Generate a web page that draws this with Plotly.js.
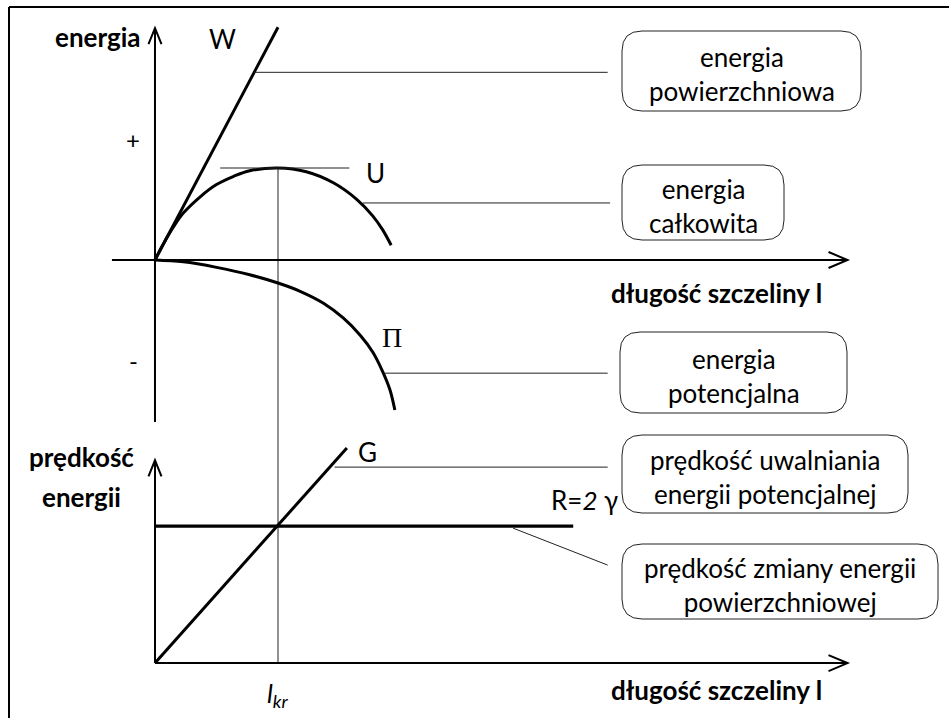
<!DOCTYPE html>
<html>
<head>
<meta charset="utf-8">
<script src="https://cdn.plot.ly/plotly-3.0.1.min.js"></script>
<style>
  html, body { margin: 0; padding: 0; background: #ffffff; }
  #chart { width: 949px; height: 718px; }
</style>
</head>
<body>
<div id="chart"></div>
<script>
// Crack length is measured in units of the critical length l_kr.
const lkr = 1.0;

// Upper panel: energies versus crack length
const wX  = [0, 1.0];                      // surface energy W (straight line)
const wY  = [0, 2.53];
const uX  = [0, 0.07, 0.15, 0.23, 0.37, 0.50, 0.64, 0.77, 1.00, 1.23, 1.45, 1.64, 1.77, 1.85, 1.92];   // total energy U
const uY  = [0, 0.18, 0.36, 0.51, 0.69, 0.82, 0.91, 0.97, 1.00, 0.96, 0.84, 0.66, 0.48, 0.33, 0.16];
const piX = [0, 0.23, 0.50, 0.77, 1.00, 1.18, 1.37, 1.53, 1.67, 1.77, 1.85, 1.91, 1.95];               // potential energy Π
const piY = [0, -0.02, -0.08, -0.16, -0.25, -0.34, -0.47, -0.63, -0.82, -1.00, -1.21, -1.41, -1.63];

// Lower panel: energy rates versus crack length
const gX = [0, 1.56];                      // release rate G
const gY = [0, 1.57];
const rX = [0, 3.40];                      // R = 2γ
const rY = [1, 1];

// Text
const axisTitleTop  = 'energia';
const axisTitleBot  = ['prędkość', 'energii'];
const axisTitleX    = 'długość szczeliny l';
const signLabels    = ['+', '-'];
const curveLabels   = {W: 'W', U: 'U', Pi: 'Π', G: 'G', R: 'R=<i>2</i> γ'};
const critLabel     = '<i>l</i><sub><i>kr</i></sub>';
const boxTexts = [
  'energia<br>powierzchniowa',
  'energia<br>całkowita',
  'energia<br>potencjalna',
  'prędkość uwalniania<br>energii potencjalnej',
  'prędkość zmiany energii<br>powierzchniowej'
];

// ---- geometry of the drawing ----
const W = 949, H = 718;
const xr   = [-1.26, 6.455];
const yTop = [-4.978, 2.826];
const yBot = [-0.401, 4.839];

const X  = v => (v - xr[0]) / (xr[1] - xr[0]) * W;
const YT = v => (yTop[1] - v) / (yTop[1] - yTop[0]) * H;
const YB = v => (yBot[1] - v) / (yBot[1] - yBot[0]) * H;
const px = x => x / W;
const py = y => 1 - y / H;

const font = 'Lato, "Open Sans", sans-serif';
const black = '#000000';

const line = (x, y, width, yaxis, shape) => ({
  type: 'scatter', mode: 'lines', x: x, y: y, xaxis: 'x', yaxis: yaxis || 'y',
  line: {color: black, width: width, shape: shape || 'linear', smoothing: 1},
  hoverinfo: 'skip', cliponaxis: false
});

// axis extents in data units
const topAxisX = [-0.35, 5.63];
const topAxisY = [-1.76, 2.52];
const botAxisX = [0, 5.63];
const botAxisY = [0, 1.48];

const traces = [
  // axes
  line(topAxisX, [0, 0], 2),
  line([0, 0], topAxisY, 2),
  line(botAxisX, [0, 0], 2, 'y2'),
  line([0, 0], botAxisY, 2, 'y2'),
  // curves
  line(wX, wY, 3),
  line(uX, uY, 3, 'y', 'spline'),
  line(piX, piY, 3, 'y', 'spline'),
  line(gX, gY, 3, 'y2'),
  line(rX, rY, 3.2, 'y2')
];

const shapes = [];
const thin = {color: '#222222', width: 1};

// frame: top and left edges
shapes.push({type: 'line', xref: 'paper', yref: 'paper',
  x0: px(9), x1: 1, y0: py(7), y1: py(7), line: {color: black, width: 2}});
shapes.push({type: 'line', xref: 'paper', yref: 'paper',
  x0: px(9), x1: px(9), y0: py(7), y1: 0, line: {color: black, width: 2}});

// arrowheads as open V shapes (pixel offsets from the tip)
function vHead(tx, ty, a, b) {
  return {type: 'path', xref: 'paper', yref: 'paper',
    path: 'M' + px(tx + a[0]) + ',' + py(ty + a[1]) + ' L' + px(tx) + ',' + py(ty) +
          ' L' + px(tx + b[0]) + ',' + py(ty + b[1]),
    line: {color: black, width: 2}};
}
shapes.push(vHead(X(0), YT(topAxisY[1]), [-6.5, 16], [6.5, 16]));
shapes.push(vHead(X(topAxisX[1]), YT(0), [-19, -8], [-19, 8]));
shapes.push(vHead(X(0), YB(botAxisY[1]), [-6.5, 16], [6.5, 16]));
shapes.push(vHead(X(botAxisX[1]), YB(0), [-19, -8], [-19, 8]));

// critical length: vertical from the U maximum down to the lower axis
const uMax = Math.max(...uY);
shapes.push({type: 'line', xref: 'x', yref: 'paper', x0: lkr, x1: lkr,
  y0: (uMax - yTop[0]) / (yTop[1] - yTop[0]), y1: (0 - yBot[0]) / (yBot[1] - yBot[0]),
  line: thin, layer: 'below'});
// horizontal tangent at the U maximum
shapes.push({type: 'line', xref: 'x', yref: 'y', x0: 0.53, x1: 1.58, y0: uMax, y1: uMax, line: thin});

// leader lines from curves to their boxes
const wSlope = wY[1] / wX[1];
shapes.push({type: 'line', xref: 'x', yref: 'y',  x0: 2.04 / wSlope, x1: 3.68, y0: 2.04, y1: 2.04, line: thin});
shapes.push({type: 'line', xref: 'x', yref: 'y',  x0: 1.69, x1: 3.70, y0: 0.62, y1: 0.62, line: thin});
shapes.push({type: 'line', xref: 'x', yref: 'y',  x0: 1.87, x1: 3.68, y0: -1.23, y1: -1.23, line: thin});
shapes.push({type: 'line', xref: 'x', yref: 'y2', x0: 1.46, x1: 3.68, y0: 1.43, y1: 1.43, line: thin});
shapes.push({type: 'line', xref: 'x', yref: 'y2', x0: 2.91, x1: 3.68, y0: 0.985, y1: 0.715, line: thin});

// rounded boxes (pixel rectangles)
const boxes = [
  [622, 31, 861, 111],
  [622, 165, 784, 240],
  [620, 332, 847, 413],
  [622, 435, 908, 513],
  [622, 544, 938, 619]
];
function roundRect(x0, y0, x1, y1, r) {
  const P = (x, y) => px(x) + ',' + py(y);
  return 'M' + P(x0 + r, y0) + ' L' + P(x1 - r, y0) + ' Q' + P(x1, y0) + ' ' + P(x1, y0 + r) +
    ' L' + P(x1, y1 - r) + ' Q' + P(x1, y1) + ' ' + P(x1 - r, y1) +
    ' L' + P(x0 + r, y1) + ' Q' + P(x0, y1) + ' ' + P(x0, y1 - r) +
    ' L' + P(x0, y0 + r) + ' Q' + P(x0, y0) + ' ' + P(x0 + r, y0) + ' Z';
}
boxes.forEach(b => shapes.push({type: 'path', xref: 'paper', yref: 'paper',
  path: roundRect(b[0], b[1], b[2], b[3], 20), line: {color: '#222222', width: 1}}));

// text
const annotations = [];
function txt(text, x, y, size, opts) {
  annotations.push(Object.assign({
    text: text, x: px(x), y: py(y), xref: 'paper', yref: 'paper',
    xanchor: 'center', yanchor: 'middle', showarrow: false,
    font: {family: font, size: size, color: black}
  }, opts || {}));
}
txt('<b>' + axisTitleTop + '</b>', 98, 37, 26);
txt('<b>' + axisTitleBot[0] + '</b>', 81, 457, 26);
txt('<b>' + axisTitleBot[1] + '</b>', 81, 497, 26);
txt('<b>' + axisTitleX + '</b>', 716, 293, 26);
txt('<b>' + axisTitleX + '</b>', 716, 690, 26);
txt(signLabels[0], 133, 140, 24);
txt(signLabels[1], 133, 360, 24);
txt(curveLabels.W, X(0.55), YT(2.40), 26);
txt(curveLabels.U, X(1.79), YT(0.95), 26);
txt(curveLabels.G, X(1.73), YB(1.54), 26);
txt(curveLabels.R, X(3.49), YB(1.19), 26);
annotations.push({text: curveLabels.Pi, x: px(X(1.93)), y: py(YT(-0.84)), xref: 'paper', yref: 'paper',
  xanchor: 'center', yanchor: 'middle', showarrow: false,
  font: {family: '"Liberation Serif", "DejaVu Serif", serif', size: 28, color: black}});
txt(critLabel, X(lkr), YB(-0.23), 26);
boxes.forEach((b, i) => txt(boxTexts[i], (b[0] + b[2]) / 2, (b[1] + b[3]) / 2 + 3, 26));

const hidden = {visible: false, showgrid: false, zeroline: false, fixedrange: true};
const layout = {
  width: W, height: H,
  margin: {l: 0, r: 0, t: 0, b: 0, pad: 0},
  paper_bgcolor: '#ffffff', plot_bgcolor: '#ffffff',
  showlegend: false,
  xaxis: Object.assign({range: xr, domain: [0, 1]}, hidden),
  yaxis: Object.assign({range: yTop, domain: [0, 1]}, hidden),
  yaxis2: Object.assign({range: yBot, overlaying: 'y', anchor: 'x'}, hidden),
  shapes: shapes,
  annotations: annotations
};

Plotly.newPlot('chart', traces, layout, {staticPlot: true, displayModeBar: false});
</script>
</body>
</html>
